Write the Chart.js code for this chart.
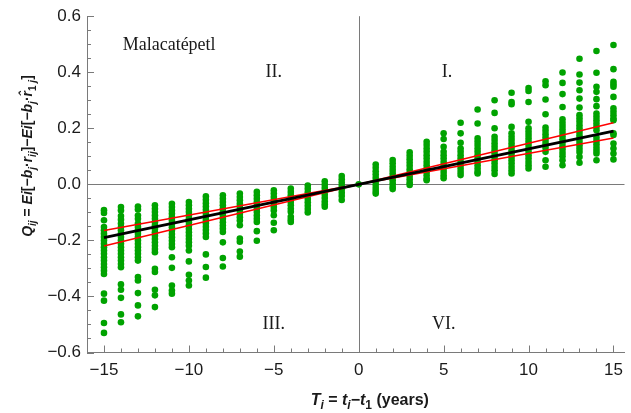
<!DOCTYPE html>
<html>
<head>
<meta charset="utf-8">
<title>Malacatépetl</title>
<script src="https://cdn.jsdelivr.net/npm/chart.js@4.4.1/dist/chart.umd.min.js"></script>
<style>
  html, body { margin: 0; padding: 0; background: #fff; }
  canvas { display: block; }
</style>
</head>
<body>
<canvas id="chart" width="631" height="413"></canvas>
<script>
// Data
const years = [-15, -14, -13, -12, -11, -10, -9, -8, -7, -6, -5, -4, -3, -2, -1, 0,
  1, 2, 3, 4, 5, 6, 7, 8, 9, 10, 11, 12, 13, 14, 15];

// Q values per year (same order as years)
const qValues = [
  [-0.092,-0.102,-0.128,-0.152,-0.164,-0.176,-0.188,-0.2,-0.212,-0.224,-0.236,-0.248,-0.26,-0.272,-0.284,-0.296,-0.308,-0.32,-0.39,-0.415,-0.495,-0.53],
  [-0.081,-0.093,-0.113,-0.126,-0.14,-0.152,-0.164,-0.176,-0.188,-0.2,-0.212,-0.224,-0.236,-0.248,-0.26,-0.272,-0.284,-0.296,-0.357,-0.376,-0.405,-0.464,-0.492],
  [-0.079,-0.09,-0.111,-0.123,-0.14,-0.152,-0.164,-0.176,-0.188,-0.2,-0.212,-0.224,-0.236,-0.248,-0.26,-0.272,-0.331,-0.343,-0.388,-0.432,-0.471],
  [-0.075,-0.087,-0.099,-0.111,-0.123,-0.135,-0.147,-0.159,-0.171,-0.183,-0.195,-0.207,-0.219,-0.231,-0.242,-0.301,-0.313,-0.376,-0.396,-0.438],
  [-0.069,-0.081,-0.093,-0.105,-0.117,-0.129,-0.141,-0.153,-0.165,-0.177,-0.189,-0.201,-0.213,-0.224,-0.26,-0.298,-0.361,-0.379,-0.39],
  [-0.063,-0.075,-0.087,-0.099,-0.111,-0.123,-0.135,-0.147,-0.159,-0.171,-0.183,-0.195,-0.207,-0.219,-0.236,-0.275,-0.323,-0.343,-0.361],
  [-0.043,-0.055,-0.067,-0.079,-0.091,-0.103,-0.115,-0.127,-0.139,-0.151,-0.163,-0.175,-0.188,-0.25,-0.295,-0.333],
  [-0.039,-0.051,-0.063,-0.075,-0.087,-0.099,-0.111,-0.123,-0.135,-0.147,-0.158,-0.17,-0.207,-0.263,-0.293],
  [-0.033,-0.045,-0.057,-0.069,-0.081,-0.093,-0.105,-0.117,-0.129,-0.146,-0.193,-0.205,-0.24,-0.258],
  [-0.027,-0.039,-0.051,-0.063,-0.075,-0.087,-0.099,-0.111,-0.123,-0.134,-0.167,-0.201],
  [-0.021,-0.033,-0.045,-0.057,-0.069,-0.081,-0.093,-0.11,-0.137,-0.164],
  [-0.015,-0.027,-0.039,-0.051,-0.063,-0.075,-0.087,-0.098,-0.116,-0.126,-0.134],
  [-0.004,-0.016,-0.028,-0.04,-0.052,-0.064,-0.076,-0.088,-0.1],
  [0.011,-0.001,-0.013,-0.025,-0.037,-0.049,-0.061,-0.071,-0.08],
  [0.03,0.018,0.006,-0.006,-0.018,-0.03,-0.042,-0.056],
  [0],
  [0.071,0.059,0.047,0.035,0.023,0.011,-0.001,-0.013,-0.024,-0.033],
  [0.087,0.075,0.063,0.051,0.039,0.027,0.015,0.003,-0.009,-0.017],
  [0.114,0.102,0.09,0.078,0.066,0.054,0.042,0.03,0.018,0.006,-0.002],
  [0.152,0.14,0.128,0.116,0.104,0.092,0.08,0.068,0.056,0.044,0.032,0.02,0.015],
  [0.182,0.162,0.134,0.116,0.104,0.092,0.08,0.068,0.056,0.044,0.032,0.022],
  [0.22,0.182,0.148,0.128,0.116,0.104,0.092,0.08,0.068,0.056,0.044,0.033],
  [0.267,0.217,0.164,0.152,0.14,0.128,0.116,0.104,0.092,0.08,0.068,0.056,0.044,0.039],
  [0.3,0.255,0.2,0.17,0.158,0.146,0.134,0.122,0.11,0.098,0.086,0.074,0.062,0.05,0.037],
  [0.327,0.294,0.286,0.205,0.182,0.17,0.158,0.146,0.134,0.122,0.11,0.098,0.086,0.074,0.062,0.05,0.039],
  [0.344,0.333,0.294,0.223,0.2,0.188,0.176,0.164,0.152,0.14,0.128,0.116,0.104,0.092,0.08,0.068,0.057],
  [0.368,0.354,0.303,0.25,0.203,0.191,0.179,0.167,0.155,0.143,0.131,0.116,0.086,0.063],
  [0.399,0.362,0.322,0.276,0.232,0.22,0.208,0.196,0.184,0.172,0.16,0.148,0.136,0.124,0.112,0.1,0.086,0.068],
  [0.448,0.392,0.363,0.336,0.306,0.274,0.247,0.235,0.223,0.211,0.199,0.187,0.175,0.163,0.151,0.139,0.127,0.115,0.098,0.077],
  [0.476,0.398,0.348,0.33,0.304,0.279,0.253,0.241,0.229,0.217,0.205,0.193,0.167,0.155,0.143,0.131,0.12,0.11,0.086],
  [0.497,0.411,0.366,0.357,0.348,0.312,0.271,0.259,0.247,0.235,0.229,0.182,0.176,0.146,0.128,0.11,0.089]
];

// fitted line and its bounds (end points)
const fitX = [-15, 15];
const fitMid = [-0.19, 0.19];
const fitSteep = [-0.22, 0.22];
const fitFlat = [-0.165, 0.165];

const xTicks = [-15, -10, -5, 0, 5, 10, 15];
const yTicks = [-0.6, -0.4, -0.2, 0, 0.2, 0.4, 0.6];

const AXIS_GRAY = '#7a7a7a';
const TEXT_COLOR = '#1a1a1a';
const SANS = '"Liberation Sans", Arial, sans-serif';
const SERIF = '"Liberation Serif", "Times New Roman", serif';

function minus(s) {
  return String(s).replace('-', '\u2212');
}

function toPoints(xs, ys) {
  return xs.map((x, i) => ({ x: x, y: ys[i] }));
}

const qPoints = [];
years.forEach((yr, i) => {
  qValues[i].forEach((q) => qPoints.push({ x: yr, y: q }));
});

// Draws text made of pieces, some of them subscripted
function drawRich(ctx, parts, size) {
  const fontOf = (p) => (p.it ? 'italic ' : '') + 'bold ' + (p.sub ? Math.round(size * 0.72) : size) + 'px ' + SANS;
  let total = 0;
  parts.forEach((p) => { ctx.font = fontOf(p); total += ctx.measureText(p.t).width; });
  let x = -total / 2;
  parts.forEach((p) => {
    ctx.font = fontOf(p);
    ctx.fillText(p.t, x, p.sub ? size * 0.28 : 0);
    x += ctx.measureText(p.t).width;
  });
}

const yLabelParts = [
  { t: 'Q', it: true }, { t: 'ij', it: true, sub: true }, { t: ' = ' },
  { t: 'Ei', it: true }, { t: '[\u2212' }, { t: 'b', it: true }, { t: 'j', it: true, sub: true },
  { t: '\u00b7' }, { t: 'r', it: true }, { t: 'ij', it: true, sub: true }, { t: ']\u2212' },
  { t: 'Ei', it: true }, { t: '[\u2212' }, { t: 'b', it: true }, { t: 'j', it: true, sub: true },
  { t: '\u00b7' }, { t: 'r\u0302', it: true }, { t: '1', sub: true }, { t: ' j', it: true, sub: true }, { t: ']' }
];

const xLabelParts = [
  { t: 'T', it: true }, { t: 'i', it: true, sub: true }, { t: ' = ' },
  { t: 't', it: true }, { t: 'i', it: true, sub: true }, { t: '\u2212' },
  { t: 't', it: true }, { t: '1', sub: true }, { t: ' (years)' }
];

const frameDecor = {
  id: 'frameDecor',
  beforeDatasetsDraw(chart) {
    const { ctx, chartArea: a, scales: { x, y } } = chart;
    ctx.save();
    ctx.strokeStyle = AXIS_GRAY;
    ctx.lineWidth = 1;
    const x0 = Math.round(x.getPixelForValue(0)) + 0.5;
    const y0 = Math.round(y.getPixelForValue(0)) + 0.5;
    ctx.beginPath();
    ctx.moveTo(x0, a.top); ctx.lineTo(x0, a.bottom);
    ctx.moveTo(a.left, y0); ctx.lineTo(a.right, y0);
    ctx.stroke();

    // inward ticks
    ctx.beginPath();
    for (let v = -16; v <= 15; v++) {
      const px = Math.round(x.getPixelForValue(v)) + 0.5;
      const len = v % 5 === 0 ? 7 : 4;
      ctx.moveTo(px, a.bottom); ctx.lineTo(px, a.bottom - len);
    }
    for (let k = -12; k <= 12; k++) {
      const py = Math.round(y.getPixelForValue(k * 0.05)) + 0.5;
      const len = k % 4 === 0 ? 7 : 4;
      ctx.moveTo(a.left, py); ctx.lineTo(a.left + len, py);
    }
    ctx.stroke();
    ctx.restore();
  },
  afterDraw(chart) {
    const { ctx, scales: { x, y } } = chart;
    ctx.save();
    ctx.fillStyle = TEXT_COLOR;

    // panel texts
    ctx.font = '18px ' + SERIF;
    ctx.textBaseline = 'alphabetic';
    ctx.textAlign = 'left';
    ctx.fillText('Malacatépetl', x.getPixelForValue(-13.9), y.getPixelForValue(0.48));
    ctx.textAlign = 'center';
    ctx.textBaseline = 'middle';
    ctx.fillText('II.', x.getPixelForValue(-5), y.getPixelForValue(0.4));
    ctx.fillText('I.', x.getPixelForValue(5.2), y.getPixelForValue(0.4));
    ctx.fillText('III.', x.getPixelForValue(-5), y.getPixelForValue(-0.5));
    ctx.fillText('VI.', x.getPixelForValue(5), y.getPixelForValue(-0.5));

    // axis titles
    ctx.textAlign = 'left';
    ctx.textBaseline = 'alphabetic';
    ctx.save();
    ctx.translate(32, 156);
    ctx.rotate(-Math.PI / 2);
    drawRich(ctx, yLabelParts, 14);
    ctx.restore();

    ctx.save();
    ctx.translate(x.getPixelForValue(0.65), 405);
    drawRich(ctx, xLabelParts, 16);
    ctx.restore();
    ctx.restore();
  }
};

const ctx = document.getElementById('chart').getContext('2d');
const chart = new Chart(ctx, {
  type: 'scatter',
  data: {
    datasets: [
      {
        data: toPoints(fitX, fitMid),
        showLine: true, borderColor: '#000', borderWidth: 3, pointRadius: 0, order: 0
      },
      {
        data: toPoints(fitX, fitSteep),
        showLine: true, borderColor: '#ff0000', borderWidth: 1.5, pointRadius: 0, order: 1
      },
      {
        data: toPoints(fitX, fitFlat),
        showLine: true, borderColor: '#ff0000', borderWidth: 1.5, pointRadius: 0, order: 1
      },
      {
        data: qPoints,
        pointRadius: 3.3, pointBackgroundColor: '#00a300', pointBorderWidth: 0,
        borderColor: '#00a300', order: 5
      }
    ]
  },
  options: {
    responsive: false,
    animation: false,
    devicePixelRatio: 1,
    layout: { padding: { left: 0, right: 0, top: 16, bottom: 0 } },
    plugins: { legend: { display: false }, tooltip: { enabled: false } },
    scales: {
      x: {
        type: 'linear', min: -16, max: 15.65,
        afterBuildTicks: (s) => { s.ticks = xTicks.map((v) => ({ value: v })); },
        afterFit: (s) => { s.height = 60.5; },
        grid: { display: false, drawTicks: false },
        border: { display: true, color: AXIS_GRAY, width: 1 },
        ticks: {
          color: TEXT_COLOR, padding: 8, maxRotation: 0,
          font: { family: SANS, size: 17 },
          callback: (v) => minus(v)
        }
      },
      y: {
        type: 'linear', min: -0.6, max: 0.6,
        afterBuildTicks: (s) => { s.ticks = yTicks.map((v) => ({ value: v })); },
        afterFit: (s) => { s.width = 87; },
        grid: { display: false, drawTicks: false },
        border: { display: true, color: AXIS_GRAY, width: 1 },
        ticks: {
          color: TEXT_COLOR, padding: 6,
          font: { family: SANS, size: 17 },
          callback: (v) => minus(Math.abs(v) < 1e-9 ? '0.0' : v.toFixed(1))
        }
      }
    }
  },
  plugins: [frameDecor]
});
</script>
</body>
</html>
